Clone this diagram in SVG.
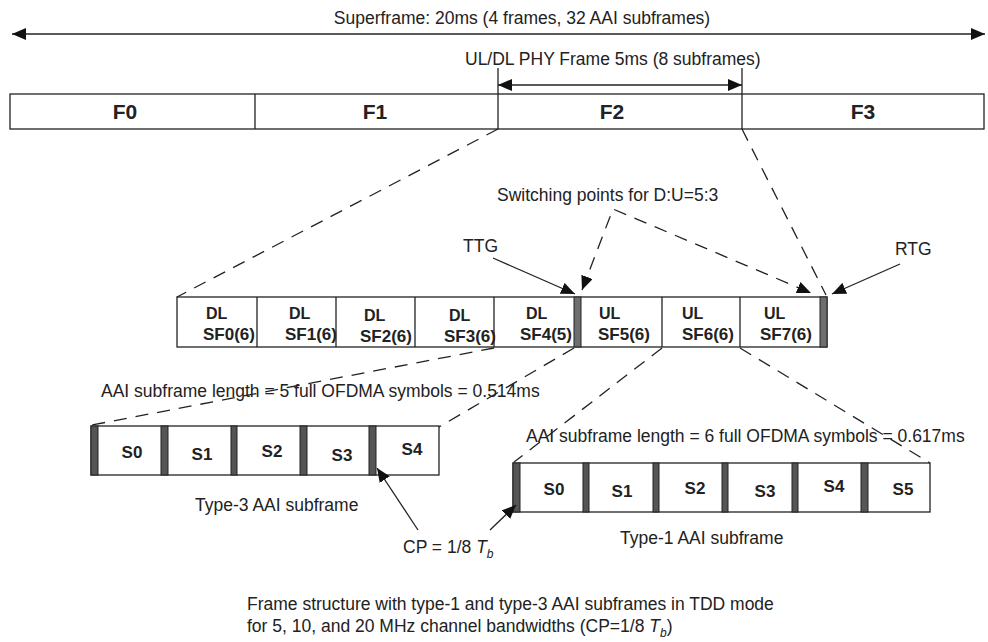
<svg xmlns="http://www.w3.org/2000/svg" width="988" height="642" viewBox="0 0 988 642">
<style>
text{font-family:"Liberation Sans",Arial,sans-serif;fill:#222}
.t{font-size:17.5px}
.b{font-size:17px;font-weight:bold}
.d{font-size:16px;font-weight:bold}
.f{font-size:21px;font-weight:bold;text-anchor:middle}
.s{font-size:17px;font-weight:bold;text-anchor:middle}
.box{fill:#fff;stroke:#222;stroke-width:1.3}
.ln{stroke:#222;stroke-width:1.3;fill:none}
.dash{stroke:#222;stroke-width:1.3;fill:none;stroke-dasharray:13 9}
.g1{fill:#6e6e6e;stroke:#222;stroke-width:1}
.g2{fill:#555;stroke:#222;stroke-width:1}
</style>
<defs>
<marker id="ah" viewBox="0 0 14 12" refX="14" refY="6" markerWidth="14" markerHeight="12" orient="auto-start-reverse" markerUnits="userSpaceOnUse"><path d="M0,0 L14,6 L0,12 z" fill="#111"/></marker>
</defs>
<rect width="988" height="642" fill="#fff"/>

<g id="superframe">
<text class="t" x="522" y="24" text-anchor="middle">Superframe: 20ms (4 frames, 32 AAI subframes)</text>
</g>
<g id="phyframe">
<text class="t" x="465" y="65">UL/DL PHY Frame 5ms (8 subframes)</text>
</g>

<g id="frames">
<rect class="box" x="10" y="94" width="974" height="35"/>
<line class="ln" x1="255" y1="94" x2="255" y2="129"/>
<line class="ln" x1="498" y1="94" x2="498" y2="129"/>
<line class="ln" x1="742" y1="94" x2="742" y2="129"/>
<text class="f" x="125" y="119">F0</text>
<text class="f" x="375" y="119">F1</text>
<text class="f" x="612" y="119">F2</text>
<text class="f" x="863" y="119">F3</text>
</g>

<g id="subframes">
<rect class="box" x="177" y="297" width="650" height="50"/>
<line class="ln" x1="257" y1="297" x2="257" y2="347"/>
<line class="ln" x1="336" y1="297" x2="336" y2="347"/>
<line class="ln" x1="415" y1="297" x2="415" y2="347"/>
<line class="ln" x1="494" y1="297" x2="494" y2="347"/>
<rect class="g1" x="574" y="297" width="7" height="50"/>
<line class="ln" x1="662" y1="297" x2="662" y2="347"/>
<line class="ln" x1="740" y1="297" x2="740" y2="347"/>
<rect class="g1" x="820" y="297" width="7" height="50"/>
<text class="d" x="206" y="319">DL</text>
<text class="b" x="203" y="340">SF0(6)</text>
<text class="d" x="289" y="319">DL</text>
<text class="b" x="285" y="340">SF1(6)</text>
<text class="d" x="364" y="321">DL</text>
<text class="b" x="360" y="342">SF2(6)</text>
<text class="d" x="449" y="321">DL</text>
<text class="b" x="444" y="342">SF3(6)</text>
<text class="d" x="526" y="319">DL</text>
<text class="b" x="520" y="340">SF4(5)</text>
<text class="d" x="599" y="319">UL</text>
<text class="b" x="598" y="340">SF5(6)</text>
<text class="d" x="682" y="319">UL</text>
<text class="b" x="682" y="340">SF6(6)</text>
<text class="d" x="764" y="319">UL</text>
<text class="b" x="760" y="340">SF7(6)</text>
</g>

<g id="switching-label">
<text class="t" x="497" y="201">Switching points for D:U=5:3</text>
</g>
<g id="ttg-label"><text class="t" x="463" y="252">TTG</text></g>
<g id="rtg-label"><text class="t" x="895" y="255">RTG</text></g>

<g id="len5-label"><text class="t" x="101" y="397">AAI subframe length = 5 full OFDMA symbols = 0.514ms</text></g>
<g id="len6-label"><text class="t" x="526" y="442">AAI subframe length = 6 full OFDMA symbols = 0.617ms</text></g>

<g id="type3">
<rect class="box" x="91" y="426" width="348" height="49"/>
<rect class="g2" x="91" y="426" width="7" height="49"/>
<rect class="g2" x="161" y="426" width="7" height="49"/>
<rect class="g2" x="231" y="426" width="6" height="49"/>
<rect class="g2" x="300" y="426" width="7" height="49"/>
<rect class="g2" x="369" y="426" width="7" height="49"/>
<text class="s" x="132" y="458">S0</text>
<text class="s" x="202" y="460">S1</text>
<text class="s" x="272" y="457">S2</text>
<text class="s" x="342" y="461">S3</text>
<text class="s" x="412" y="455">S4</text>
<text class="t" x="195" y="511">Type-3 AAI subframe</text>
</g>

<g id="type1">
<rect class="box" x="513" y="463" width="417" height="49"/>
<rect class="g2" x="513" y="463" width="7" height="49"/>
<rect class="g2" x="583" y="463" width="6" height="49"/>
<rect class="g2" x="653" y="463" width="6" height="49"/>
<rect class="g2" x="722" y="463" width="6" height="49"/>
<rect class="g2" x="792" y="463" width="6" height="49"/>
<rect class="g2" x="861" y="463" width="7" height="49"/>
<text class="s" x="554" y="495">S0</text>
<text class="s" x="622" y="497">S1</text>
<text class="s" x="695" y="494">S2</text>
<text class="s" x="765" y="497">S3</text>
<text class="s" x="834" y="492">S4</text>
<text class="s" x="903" y="495">S5</text>
<text class="t" x="620" y="544">Type-1 AAI subframe</text>
</g>

<g id="cp-label">
<text class="t" x="403" y="553">CP = 1/8 <tspan font-style="italic">T</tspan><tspan font-size="12" font-style="italic" dy="5">b</tspan></text>
</g>

<g id="caption">
<text class="t" x="247" y="610">Frame structure with type-1 and type-3 AAI subframes in TDD mode</text>
<text class="t" x="247" y="632">for 5, 10, and 20 MHz channel bandwidths (CP=1/8 <tspan font-style="italic">T</tspan><tspan font-size="12" font-style="italic" dy="5">b</tspan><tspan dy="-5">)</tspan></text>
</g>

<g id="connectors">
<line class="ln" x1="12" y1="34" x2="985" y2="34" marker-start="url(#ah)" marker-end="url(#ah)"/>
<line class="ln" x1="498" y1="68" x2="498" y2="94"/>
<line class="ln" x1="742" y1="68" x2="742" y2="94"/>
<line class="ln" x1="498" y1="85" x2="742" y2="85" marker-start="url(#ah)" marker-end="url(#ah)"/>
<line class="dash" x1="498" y1="129" x2="177" y2="297"/>
<line class="dash" x1="742" y1="129" x2="826" y2="295"/>
<polyline class="dash" points="582,290 613,209 811,293" marker-start="url(#ah)" marker-end="url(#ah)"/>
<line class="ln" x1="493" y1="258" x2="575" y2="294" marker-end="url(#ah)"/>
<line class="ln" x1="900" y1="264" x2="832" y2="294" marker-end="url(#ah)"/>
<line class="dash" x1="494" y1="348" x2="92" y2="425"/>
<line class="dash" x1="574" y1="348" x2="439" y2="427"/>
<line class="dash" x1="662" y1="348" x2="514" y2="462"/>
<line class="dash" x1="740" y1="348" x2="930" y2="463"/>
<line class="ln" x1="418" y1="530" x2="377" y2="468" marker-end="url(#ah)"/>
<line class="ln" x1="490" y1="530" x2="516" y2="505" marker-end="url(#ah)"/>
</g>
</svg>
